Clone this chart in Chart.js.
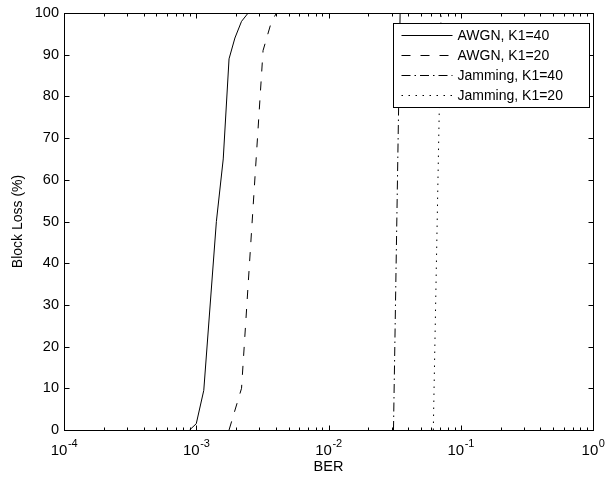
<!DOCTYPE html>
<html>
<head>
<meta charset="utf-8">
<script src="https://cdn.jsdelivr.net/npm/chart.js@4/dist/chart.umd.min.js"></script>
<style>
html,body{margin:0;padding:0;background:#fff;}
canvas{display:block;}
</style>
</head>
<body>
<canvas id="c" width="605" height="482"></canvas>
<script>
// ---- data ----
const seriesLabels = ['AWGN, K1=40', 'AWGN, K1=20', 'Jamming, K1=40', 'Jamming, K1=20'];
const awgn40Ber  = [8.9e-4, 1.0e-3, 1.14e-3, 1.42e-3, 1.6e-3, 1.77e-3, 1.96e-3, 2.2e-3, 2.47e-3];
const awgn40Loss = [0, 1.5, 9.5, 50, 65, 89, 94, 98, 100];
const awgn20Ber  = [1.77e-3, 2.2e-3, 3.2e-3, 3.71e-3, 4.05e-3];
const awgn20Loss = [0, 10, 91, 98, 100];
const jam40Ber   = [3.1e-2, 3.48e-2];
const jam40Loss  = [0, 100];
const jam20Ber   = [6.2e-2, 7.1e-2];
const jam20Loss  = [0, 100];
const xDecades   = [1e-4, 1e-3, 1e-2, 1e-1, 1];
const xExponents = ['-4', '-3', '-2', '-1', '0'];
const yTickVals  = [0, 10, 20, 30, 40, 50, 60, 70, 80, 90, 100];

const FONT = "'Liberation Sans', Arial, Helvetica, sans-serif";
const zip = (xs, ys) => xs.map((v, i) => ({x: v, y: ys[i]}));

const styles = [[], [9, 10], [9, 4, 1.5, 4], [1.5, 5.5]];
const seriesX = [awgn40Ber, awgn20Ber, jam40Ber, jam20Ber];
const seriesY = [awgn40Loss, awgn20Loss, jam40Loss, jam20Loss];

const datasets = seriesLabels.map((lab, i) => ({
  label: lab,
  data: zip(seriesX[i], seriesY[i]),
  showLine: true,
  borderColor: '#000',
  borderWidth: 1,
  borderDash: styles[i],
  pointRadius: 0,
  tension: 0,
  fill: false
}));

const frameTicks = {
  id: 'frameTicks',
  afterDatasetsDraw(chart) {
    const {ctx, chartArea: a, scales: {x, y}} = chart;
    const L = Math.round(a.left) + 0.5, R = Math.round(a.right) + 0.5;
    const T = Math.round(a.top) + 0.5, B = Math.round(a.bottom) + 0.5;
    ctx.save();
    ctx.strokeStyle = '#000';
    ctx.lineWidth = 1;
    ctx.setLineDash([]);
    ctx.beginPath();
    for (let d = 0; d < xDecades.length; d++) {
      const base = xDecades[d];
      for (let m = 1; m <= 9; m++) {
        const v = base * m;
        if (v > xDecades[xDecades.length - 1] + 1e-12) break;
        const px = Math.round(x.getPixelForValue(v)) + 0.5;
        const len = m === 1 ? 5 : 3;
        ctx.moveTo(px, B); ctx.lineTo(px, B - len);
        ctx.moveTo(px, T); ctx.lineTo(px, T + len);
      }
    }
    yTickVals.forEach(v => {
      const py = Math.round(y.getPixelForValue(v)) + 0.5;
      ctx.moveTo(L, py); ctx.lineTo(L + 5, py);
      ctx.moveTo(R, py); ctx.lineTo(R - 5, py);
    });
    ctx.stroke();
    ctx.strokeRect(L, T, R - L, B - T);

    // decade labels with raised exponents, placed through the x scale
    ctx.fillStyle = '#000';
    ctx.textBaseline = 'alphabetic';
    ctx.textAlign = 'left';
    const baseY = Math.round(a.bottom) + 25;
    xDecades.forEach((v, i) => {
      const px = x.getPixelForValue(v);
      ctx.font = '15px ' + FONT;
      const wb = ctx.measureText('10').width;
      ctx.font = '11px ' + FONT;
      const we = ctx.measureText(xExponents[i]).width;
      const start = px - (wb + we) / 2;
      ctx.font = '15px ' + FONT;
      ctx.fillText('10', start, baseY);
      ctx.font = '11px ' + FONT;
      ctx.fillText(xExponents[i], start + wb + 0.5, baseY - 8);
    });
    ctx.restore();
  }
};

const boxLegend = {
  id: 'boxLegend',
  afterDraw(chart) {
    const {ctx, chartArea: a} = chart;
    const right = Math.round(a.right) - 4 + 0.5;
    const left = right - 196;
    const top = Math.round(a.top) + 10 + 0.5;
    const h = 84;
    ctx.save();
    ctx.fillStyle = '#fff';
    ctx.fillRect(left, top, right - left, h);
    ctx.strokeStyle = '#000';
    ctx.lineWidth = 1;
    ctx.setLineDash([]);
    ctx.strokeRect(left, top, right - left, h);
    ctx.font = '14px ' + FONT;
    ctx.fillStyle = '#000';
    ctx.textBaseline = 'middle';
    ctx.textAlign = 'left';
    chart.data.datasets.forEach((ds, i) => {
      const cy = Math.round(top + 11 + 20 * i) + 0.5;
      ctx.beginPath();
      ctx.setLineDash(ds.borderDash || []);
      ctx.moveTo(left + 8, cy);
      ctx.lineTo(left + 59, cy);
      ctx.stroke();
      ctx.setLineDash([]);
      ctx.fillText(ds.label, left + 64, cy + 1);
    });
    ctx.restore();
  }
};

new Chart(document.getElementById('c'), {
  type: 'scatter',
  data: {datasets},
  options: {
    responsive: false,
    animation: false,
    devicePixelRatio: 1,
    layout: {padding: {left: 0, right: 12, top: 13, bottom: 0}},
    plugins: {legend: {display: false}, tooltip: {enabled: false}},
    scales: {
      x: {
        type: 'logarithmic',
        min: 1e-4,
        max: 1,
        afterBuildTicks(scale) { scale.ticks = xDecades.map(v => ({value: v})); },
        afterFit(scale) { scale.height = 52; scale.paddingLeft = 0; scale.paddingRight = 0; },
        grid: {display: false, drawTicks: false},
        border: {display: false},
        ticks: {display: false},
        title: {display: true, text: 'BER', color: '#000', font: {family: FONT, size: 14.5}, padding: {top: 0, bottom: 6}}
      },
      y: {
        min: 0,
        max: 100,
        afterBuildTicks(scale) { scale.ticks = yTickVals.map(v => ({value: v})); },
        afterFit(scale) { scale.width = 64; scale.paddingTop = 0; scale.paddingBottom = 0; },
        grid: {display: false, drawTicks: false},
        border: {display: false},
        ticks: {padding: 5, color: '#000', font: {family: FONT, size: 14.5}},
        title: {display: true, text: 'Block Loss (%)', color: '#000', font: {family: FONT, size: 14}, padding: {top: 10, bottom: 0}}
      }
    }
  },
  plugins: [frameTicks, boxLegend]
});
</script>
</body>
</html>
